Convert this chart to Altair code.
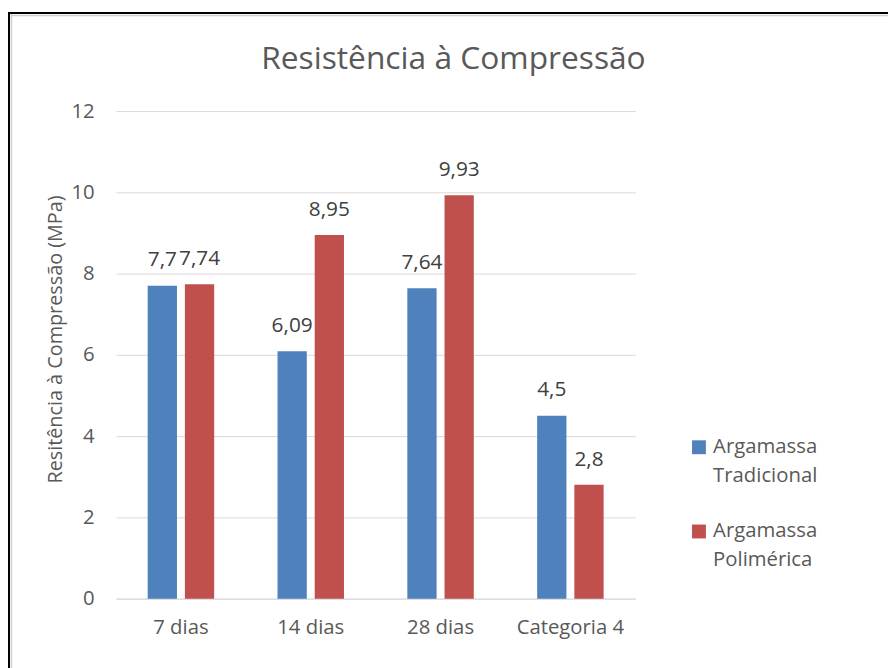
import altair as alt
import pandas as pd

categories = ["7 dias", "14 dias", "28 dias", "Categoria 4"]
series = ["Argamassa Tradicional", "Argamassa Polimérica"]
tradicional = [7.7, 6.09, 7.64, 4.5]
polimerica = [7.74, 8.95, 9.93, 2.8]
colors = ["#4F81BD", "#C0504D"]
y_ticks = [0, 2, 4, 6, 8, 10, 12]
chart_title = "Resistência à Compressão"
y_title = "Resitência à Compressão (MPa)"

rows = []
for i, c in enumerate(categories):
    for s, vals in zip(series, [tradicional, polimerica]):
        v = vals[i]
        rows.append({"cat": c, "serie": s, "valor": v,
                     "rotulo": f"{v:g}".replace(".", ",")})
df = pd.DataFrame(rows)

FONT = "Open Sans"
GRAY = "#595959"
LBL = 20.5

base = alt.Chart(df).encode(
    x=alt.X("cat:N", sort=categories,
            scale=alt.Scale(paddingInner=0.488, paddingOuter=0.244),
            axis=alt.Axis(title=None, labelAngle=0, labelFontSize=LBL,
                          labelColor=GRAY, labelFont=FONT, labelPadding=19,
                          ticks=False, domainColor="#D9D9D9", grid=False)),
    xOffset=alt.XOffset("serie:N", sort=series,
                        scale=alt.Scale(paddingInner=0.213, paddingOuter=0)),
)

bars = base.mark_bar().encode(
    y=alt.Y("valor:Q", scale=alt.Scale(domain=[0, 12], nice=False),
            axis=alt.Axis(values=y_ticks, title=y_title,
                          titleFontSize=20, titleFont=FONT, titleColor=GRAY,
                          titleFontWeight="normal", titleX=-61, titleY=230,
                          titleAngle=270, titleAlign="center", titleBaseline="middle",
                          labelFontSize=LBL, labelColor=GRAY, labelFont=FONT,
                          labelPadding=22, ticks=False, domain=False,
                          gridColor="#D9D9D9", gridWidth=1)),
    color=alt.Color("serie:N", sort=series,
                    scale=alt.Scale(domain=series, range=colors),
                    legend=alt.Legend(orient="none", legendX=578, legendY=329,
                                      title=None, symbolType="square",
                                      symbolSize=196, symbolStrokeWidth=0,
                                      labelExpr="split(datum.label, ' ')",
                                      labelFontSize=LBL, labelColor=GRAY,
                                      labelFont=FONT, labelOffset=4,
                                      labelLimit=400, padding=0, rowPadding=35)),
)

labels = base.mark_text(fontSize=21, font=FONT, color="#404040",
                        baseline="alphabetic", dy=-19.5).encode(
    y=alt.Y("valor:Q"),
    text="rotulo:N",
)

one = pd.DataFrame({"a": [0]})
title_mark = alt.Chart(one).mark_text(
    text=chart_title, font=FONT, fontSize=32, color=GRAY,
    align="center", baseline="middle").encode(
    x=alt.value(340.5), y=alt.value(-52))
border_left = alt.Chart(one).mark_rule(color="#000000", strokeWidth=2).encode(
    x=alt.value(-108), y=alt.value(-100), y2=alt.value(700))
border_top = alt.Chart(one).mark_rule(color="#000000", strokeWidth=2).encode(
    y=alt.value(-99), x=alt.value(-109), x2=alt.value(900))
shade_left = alt.Chart(one).mark_rule(color="#CFCFCF", strokeWidth=1.5).encode(
    x=alt.value(-105.5), y=alt.value(-98), y2=alt.value(700))
shade_top = alt.Chart(one).mark_rule(color="#CFCFCF", strokeWidth=1.5).encode(
    y=alt.value(-96.5), x=alt.value(-106), x2=alt.value(900))

chart = alt.layer(bars, labels, title_mark, border_left, border_top,
                  shade_left, shade_top).properties(
    width=524, height=492,
    autosize=alt.AutoSizeParams(type="none"),
    padding={"left": 109, "top": 101, "right": 255, "bottom": 67},
).configure(
    background="white",
    view=alt.ViewConfig(stroke=None),
    style={"guide-label": {"lineHeight": 29}},
)

chart.save("out.html", embed_options={"renderer": "svg", "actions": False})
